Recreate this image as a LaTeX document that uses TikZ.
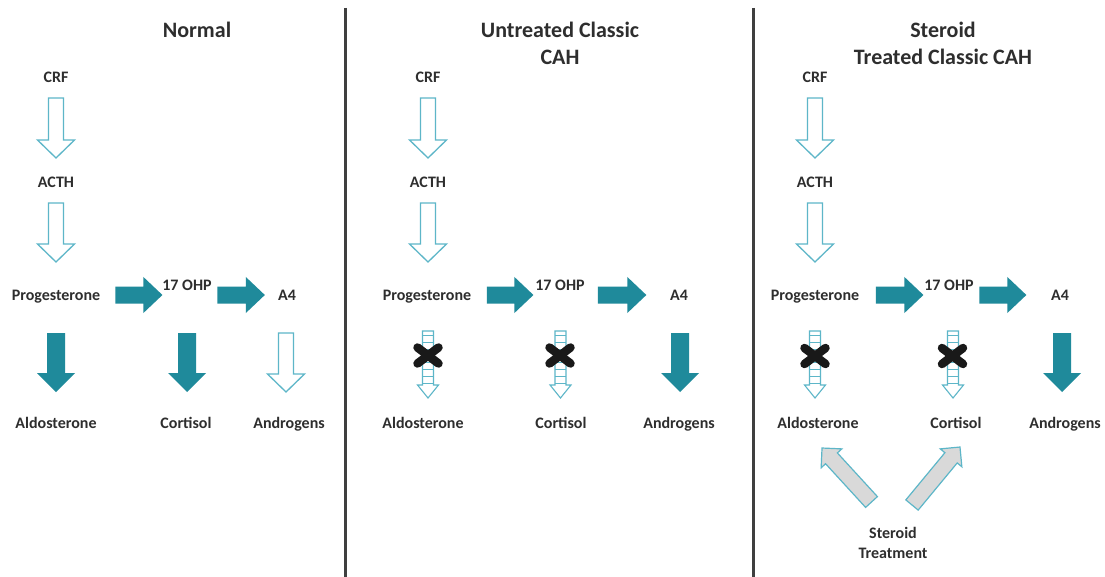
\documentclass[tikz,border=0pt]{standalone}
\usepackage{fontspec}
\setmainfont{Carlito}
\usetikzlibrary{calc}
\definecolor{tealA}{HTML}{1F8A9B}
\definecolor{lineB}{HTML}{5DB6C8}
\definecolor{grayF}{HTML}{D9D9D9}
\definecolor{txt}{HTML}{2E2E2E}
\definecolor{divc}{HTML}{3F3F3F}

% style, from, to, shaft half width, head half width, head length
\newcommand\blockarrow[6]{%
  \path (#2); \pgfgetlastxy{\bax}{\bay}%
  \path (#3); \pgfgetlastxy{\bbx}{\bby}%
  \pgfmathsetmacro\balen{veclen(\bbx-\bax,\bby-\bay)}%
  \pgfmathsetmacro\baang{atan2(\bby-\bay,\bbx-\bax)}%
  \pgfmathsetmacro\babase{\balen-#6}%
  \draw[#1, shift={(\bax,\bay)}, rotate=\baang]
    (0pt,-#4pt) -- (\babase pt,-#4pt) -- (\babase pt,-#5pt) -- (\balen pt,0pt)
    -- (\babase pt,#5pt) -- (\babase pt,#4pt) -- (0pt,#4pt) -- cycle;
}
% ladder arrow: from, to
\newcommand\ladderarrow[2]{%
  \blockarrow{ladder}{#1}{#2}{5.5}{10.5}{13}%
  \begin{scope}[shift={(\bax,\bay)}, rotate=\baang]
    \foreach \r in {0,...,7} \draw[ladderrung] ({(4.5+\r*6.8)*1pt},-5.5pt) -- ({(4.5+\r*6.8)*1pt},5.5pt);
  \end{scope}%
}
% heavy cross centred at a point
\newcommand\xcross[1]{%
  \draw[xmark] ($(#1)+(-10.5,-8)$) -- ($(#1)+(10.5,8)$);
  \draw[xmark] ($(#1)+(-10.5,8)$) -- ($(#1)+(10.5,-8)$);
}

\begin{document}
\begin{tikzpicture}[x=1pt,y=-1pt,
  lbl/.style={font=\bfseries\fontsize{16}{19}\selectfont, text=txt, inner sep=0pt, text height=10.5pt, text depth=1pt},
  lblml/.style={font=\bfseries\fontsize{16}{19.5}\selectfont, text=txt, inner sep=0pt, align=center},
  ttl/.style={font=\bfseries\fontsize{22}{27}\selectfont, text=txt, inner sep=0pt, align=center},
  hollow/.style={draw=lineB, line width=1.3pt, fill=white, line join=miter},
  solid/.style={fill=tealA, draw=none},
  grayarr/.style={fill=grayF, draw=lineB, line width=1.2pt, line join=miter},
  ladder/.style={draw=lineB, line width=1.1pt, fill=white, line join=miter},
  ladderrung/.style={draw=lineB, line width=1.1pt},
  xmark/.style={draw=black!90, line width=8.5pt, line cap=round},
  divider/.style={draw=divc, line width=3pt}]

\fill[white] (0,0) rectangle (1105,577);
\useasboundingbox (0,0) rectangle (1105,577);

% dividers
\draw[divider] (345,8) -- (345,577);
\draw[divider] (753,8) -- (753,577);

% titles
\node[ttl] (t1) at (197,30) {Normal};
\node[ttl] (t2) at (560,43.5) {Untreated Classic\\CAH};
\node[ttl] (t3) at (943,43.5) {Steroid\\Treated Classic CAH};

% ---------------- Panel 1 ----------------
\node[lbl] (crf1) at (56,78) {CRF};
\node[lbl] (acth1) at (56,183) {ACTH};
\node[lbl] (prog1) at (56,296) {Progesterone};
\node[lbl] (ohp1) at (187,286) {17 OHP};
\node[lbl] (a41) at (287,296) {A4};
\node[lbl] (aldo1) at (56,424) {Aldosterone};
\node[lbl] (cort1) at (186,424) {Cortisol};
\node[lbl] (andr1) at (289,424) {Androgens};

\blockarrow{hollow}{$(crf1)+(0,20)$}{$(acth1)+(0,-25)$}{7.5}{18.5}{18}
\blockarrow{hollow}{$(acth1)+(0,20)$}{$(prog1)+(0,-34)$}{7.5}{18.5}{18}
\blockarrow{solid}{$(prog1.east)+(15,-1)$}{$(prog1.east)+(62,-1)$}{8.5}{18}{19}
\blockarrow{solid}{$(ohp1.east)+(5.5,9)$}{$(ohp1.east)+(53,9)$}{8.5}{18}{19}
\blockarrow{solid}{$(prog1)+(0,37)$}{$(prog1|-aldo1)+(0,-32)$}{9}{19}{19}
\blockarrow{solid}{$(ohp1)+(0,47)$}{$(ohp1|-cort1)+(0,-32)$}{9}{19}{19}
\blockarrow{hollow}{$(a41)+(-1,37)$}{$(a41|-andr1)+(-1,-32)$}{7.5}{18.5}{18}

% ---------------- Panel 2 ----------------
\node[lbl] (crf2) at (428,78) {CRF};
\node[lbl] (acth2) at (428,183) {ACTH};
\node[lbl] (prog2) at (427,296) {Progesterone};
\node[lbl] (ohp2) at (560,286) {17 OHP};
\node[lbl] (a42) at (679,296) {A4};
\node[lbl] (aldo2) at (423,424) {Aldosterone};
\node[lbl] (cort2) at (561,424) {Cortisol};
\node[lbl] (andr2) at (679,424) {Androgens};

\blockarrow{hollow}{$(crf2)+(0,20)$}{$(acth2)+(0,-25)$}{7.5}{18.5}{18}
\blockarrow{hollow}{$(acth2)+(0,20)$}{$(prog2)+(1,-34)$}{7.5}{18.5}{18}
\blockarrow{solid}{$(prog2.east)+(15.5,-1)$}{$(prog2.east)+(62,-1)$}{8.5}{18}{19}
\blockarrow{solid}{$(ohp2.east)+(13,9)$}{$(ohp2.east)+(61.5,9)$}{8.5}{18}{19}
\ladderarrow{$(prog2)+(1,35)$}{$(prog2)+(1,102)$}
\xcross{$(prog2)+(1,59.5)$}
\ladderarrow{$(ohp2)+(0.5,45)$}{$(ohp2)+(0.5,112)$}
\xcross{$(ohp2)+(0,69.5)$}
\blockarrow{solid}{$(a42)+(1,37)$}{$(a42|-andr2)+(1,-32)$}{9}{19}{19}

% ---------------- Panel 3 ----------------
\node[lbl] (crf3) at (815,78) {CRF};
\node[lbl] (acth3) at (815,183) {ACTH};
\node[lbl] (prog3) at (815,296) {Progesterone};
\node[lbl] (ohp3) at (949,286) {17 OHP};
\node[lbl] (a43) at (1060,296) {A4};
\node[lbl] (aldo3) at (818,424) {Aldosterone};
\node[lbl] (cort3) at (956,424) {Cortisol};
\node[lbl] (andr3) at (1065,424) {Androgens};
\node[lblml] (ster) at (893,543) {Steroid\\Treatment};

\blockarrow{hollow}{$(crf3)+(0,20)$}{$(acth3)+(0,-25)$}{7.5}{18.5}{18}
\blockarrow{hollow}{$(acth3)+(0,20)$}{$(prog3)+(0,-34)$}{7.5}{18.5}{18}
\blockarrow{solid}{$(prog3.east)+(16.5,-1)$}{$(prog3.east)+(64,-1)$}{8.5}{18}{19}
\blockarrow{solid}{$(ohp3.east)+(5.5,9)$}{$(ohp3.east)+(52.5,9)$}{8.5}{18}{19}
\ladderarrow{$(prog3)+(0,35)$}{$(prog3)+(0,102)$}
\xcross{$(prog3)+(0,60)$}
\ladderarrow{$(ohp3)+(4,45)$}{$(ohp3)+(4,112)$}
\xcross{$(ohp3)+(3.5,70)$}
\blockarrow{solid}{$(a43)+(2,37)$}{$(a43|-andr3)+(2,-32)$}{9}{19}{19}

% steroid treatment arrows
\blockarrow{grayarr}{$(ster)+(-21.5,-41)$}{$(aldo3)+(4,24)$}{8}{14}{14}
\blockarrow{grayarr}{$(ster)+(19,-38)$}{$(cort3)+(4,23)$}{8}{14}{14}

\end{tikzpicture}
\end{document}
